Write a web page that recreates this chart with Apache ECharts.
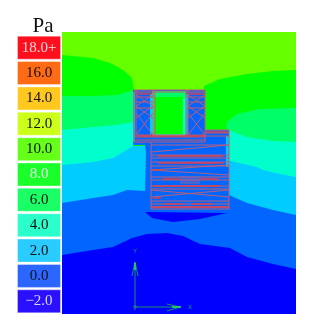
<!DOCTYPE html>
<html><head><meta charset="utf-8">
<style>html,body{margin:0;padding:0;background:#fff}#c{width:312px;height:329px;filter:blur(0.35px)}</style>
<script src="https://cdn.jsdelivr.net/npm/echarts@6/dist/echarts.min.js"></script>
</head><body><div id="c"></div>
<script>
const legendTitle = 'Pa';
const legendLabels = ['18.0+','16.0','14.0','12.0','10.0','8.0','6.0','4.0','2.0','0.0','\u22122.0'];
const legendColors = ['#ff0f1e','#ff6a14','#ffc81e','#ccff1a','#66ff1a','#1aff2a','#1aff66','#2affcc','#2accff','#2a66ff','#2a10ff'];
const legendTextColors = ['#ffd8d8','#111','#111','#111','#111','#e8ffe8','#111','#111','#111','#111','#d8d8ff'];
const legendValues = [1,1,1,1,1,1,1,1,1,1,1];

// Field extents (plot units)
const fieldW = 234, fieldH = 282;
const bg = [[0,0],[234,0],[234,282],[0,282]];
const band10 = [[0,23],[31,26],[48,31],[61,38],[70,46],[72,58],[142,58],[142,54],[158,47],[185,42],[211,39],[234,38],[234,282],[0,282]];
const band8L = [[0,64],[31,64],[55,63],[72,58],[72,282],[0,282]];
const band8R = [[164,98],[165,90],[175,82],[198,77],[234,76],[234,282],[164,282]];
const band6L = [[0,98],[31,95],[55,93],[71,90],[71,282],[0,282]];
const band6R = [[166,98],[185,105],[211,109],[234,110],[234,282],[166,282]];
const band4L = [[0,133],[31,130],[51,126],[61,120],[71,114],[90,114],[90,282],[0,282]];
const band4R = [[164,128],[195,135],[201,138],[218,142],[234,145],[234,282],[164,282]];
const band2 = [[0,171],[31,166],[51,163],[65,158],[83,159],[84,120],[83,113],[71,113],[71,58],[143,58],[143,98],[167,98],[167,163],[185,171],[211,178],[234,183],[234,282],[0,282]];
const bandLow = [[0,223],[31,218],[51,215],[70,206],[85,202],[105,201],[121,204],[138,212],[168,216],[185,225],[211,232],[234,237],[234,282],[0,282]];
const lens = [[83,180],[90,186],[111,190],[138,187],[165,181]];
const fringeR = [[164,104],[167,104],[167,135],[164,135]];
const fringeL = [[71,60],[73,60],[73,110],[71,110]];
const fringeA = [[88,62],[90,62],[90,102],[88,102]];
const fringeB = [[124,62],[126,62],[126,102],[124,102]];
const windowRim = [[90,60],[124,60],[124,104],[90,104]];
const windowTop = [[90,59],[124,59],[124,66],[90,66]];
const windowIn = [[92,65],[121,65],[121,102],[92,102]];
const polygons = [
 [bg,'#66ff00'],[band10,'#00ff00'],[band8L,'#00ff66'],[band8R,'#00ff66'],
 [band6L,'#00ffcc'],[band6R,'#00ffcc'],[band4L,'#00ccff'],[band4R,'#00ccff'],
 [band2,'#0066ff'],[bandLow,'#0000ff'],[lens,'#0000ff'],
 [fringeR,'#00ccff'],[fringeL,'#00ccff'],[fringeA,'#00ccff'],[fringeB,'#00ccff'],
 [windowRim,'#00ffcc'],[windowTop,'#00ff66'],[windowIn,'#00ff00']
];

// Members: x1,y1,x2,y2
const frameMembers = [
 [72,58,143,58],[72,60,143,60],[72,58,72,110],[74,58,74,103],[91,58,91,105],[93,58,93,105],[124,58,124,105],[126,58,126,105],[143,58,143,110],
 [72,103,143,103],[72,105,143,105],[72,108,143,108],[72,110,143,110],
 [143,98,167,98],[143,101,167,101],[143,104,167,104],[167,98,167,177],[89,110,89,177],
 [74,65,91,65],[74,70,91,70],[74,76,91,76],[126,65,143,65],[126,70,143,70],[126,76,143,76],
 [74,63,91,74],[91,63,74,74],[74,74,91,86],[91,74,74,86],[74,81,91,103],[91,81,74,103],
 [126,63,143,74],[143,63,126,74],[126,74,143,86],[143,74,126,86],[126,81,143,103],[143,81,126,103]
];
const deckMembers = [
 [89,113,167,113],[89,120,167,113],[89,123,167,123],[89,126,167,126],[89,130,167,130],[89,134,167,134],
 [89,138,167,133],[89,138,167,143],[89,145,167,145],[89,148,167,148],[89,154,167,154],[89,157,167,157],
 [89,165,167,158],[89,158,167,165],[89,169,167,169],[89,172,167,172],[89,175,167,175],[89,177,167,177]
];
const centerMembers = [[118,145,138,145],[118,147,138,147],[118,149,138,149],[118,151,138,151]];
const heavyMembers = [
 [96,124,161,124],[96,131,161,131],[91,138,101,138],[100,147,118,147],[138,147,156,147],
 [91,154,158,154],[91,166,99,166],[101,172,121,172],[130,172,150,172],[90,175,166,175],
 [75,104,142,104],[74,62,90,62],[127,62,142,62],[144,100,166,100]
];
const triadMembers = [[73,275,73,230],[70,244,73,230],[76,244,73,230],[73,275,118,275],[105,272,118,275],[105,279,118,275],[71,275,75,275],[73,273,73,278]];
const triadTips = [[73,238,73,231],[110,275,119,275]];
const triadLabels = [['Y',73,219],['X',128,275]];

const polySeries = {
  type:'custom', xAxisIndex:0, yAxisIndex:0, silent:true, clip:true, z:1,
  data: polygons.map((p,i)=>[i]),
  encode:{x:[],y:[]},
  renderItem(params, api){
    const p = polygons[params.dataIndex];
    return {type:'polygon', shape:{points:p[0].map(q=>api.coord(q))}, style:{fill:p[1]}};
  }
};
function segSeries(data, color, w, z){
  return {
    type:'custom', xAxisIndex:0, yAxisIndex:0, silent:true, z,
    data, encode:{x:[0,2],y:[1,3]},
    renderItem(params, api){
      const a = api.coord([api.value(0),api.value(1)]), b = api.coord([api.value(2),api.value(3)]);
      return {type:'line', shape:{x1:a[0],y1:a[1],x2:b[0],y2:b[1]}, style:{stroke:color,lineWidth:w,fill:null}};
    }
  };
}
const option = {
  animation:false, backgroundColor:'#fff',
  title:{text:legendTitle,left:38,top:11,textAlign:'center',textStyle:{fontFamily:'Liberation Serif',fontSize:21,fontWeight:'normal',color:'#111'}},
  grid:[
    {left:62,top:32,width:234,height:282},
    {left:17,top:35,width:44,height:279}
  ],
  xAxis:[
    {type:'value',gridIndex:0,min:0,max:fieldW,show:false},
    {type:'value',gridIndex:1,min:0,max:1,show:false}
  ],
  yAxis:[
    {type:'value',gridIndex:0,min:0,max:fieldH,inverse:true,show:false},
    {type:'category',gridIndex:1,inverse:true,data:legendLabels,show:false}
  ],
  series:[
    polySeries,
    segSeries(frameMembers,'#c25a72',1,2),
    segSeries(deckMembers,'#b8607c',1,2),
    segSeries(centerMembers,'#8f62a8',1,3),
    segSeries(heavyMembers,'#e0404c',1.4,3),
    segSeries(triadMembers,'#1f8f6a',1,4),
    segSeries(triadTips,'#20e060',1.6,5),
    {
      type:'custom',xAxisIndex:0,yAxisIndex:0,silent:true,z:5,
      data:triadLabels.map(l=>[l[1],l[2],l[0]]),
      dimensions:['x','y',{name:'t',type:'ordinal'}],
      encode:{x:0,y:1},
      renderItem(params, api){
        const c = api.coord([api.value(0),api.value(1)]);
        return {type:'text',style:{x:c[0],y:c[1],text:triadLabels[params.dataIndex][0],fill:'#1f8f6a',fontSize:6,fontFamily:'DejaVu Sans',align:'center',verticalAlign:'middle'}};
      }
    },
    {
      type:'bar',xAxisIndex:1,yAxisIndex:1,barWidth:24,silent:true,
      data:legendValues.map((v,i)=>({
        value:v,
        itemStyle:{color:legendColors[i],borderColor:'rgba(255,255,255,0.35)',borderWidth:1},
        label:{show:true,position:'inside',formatter:legendLabels[i],color:legendTextColors[i],fontFamily:'Liberation Serif',fontSize:15}
      }))
    }
  ]
};
const chart = echarts.init(document.getElementById('c'),null,{renderer:'canvas',width:312,height:329});
chart.setOption(option);
</script></body></html>
